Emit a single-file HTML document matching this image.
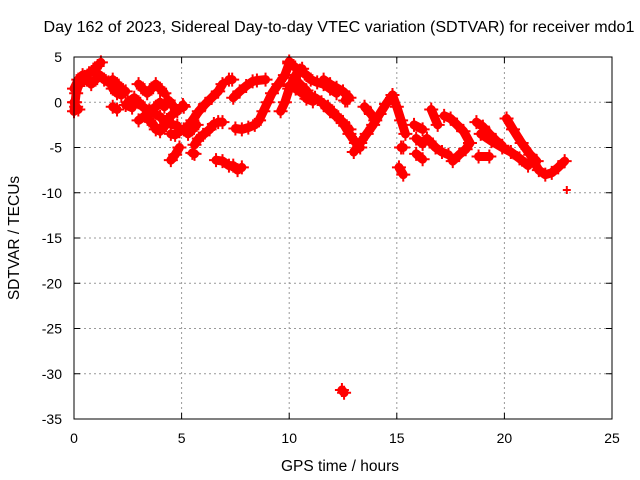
<!DOCTYPE html>
<html><head><meta charset="utf-8"><style>
body{margin:0;background:#fff;}
svg{display:block;font-family:"Liberation Sans",sans-serif;}
</style></head><body>
<svg id="chart" width="640" height="480">
<text x="339" y="32" text-anchor="middle" font-size="16.1">Day 162 of 2023, Sidereal Day-to-day VTEC variation (SDTVAR) for receiver mdo1</text>
<text x="340" y="471" text-anchor="middle" font-size="15.5">GPS time / hours</text>
<text transform="translate(19,238) rotate(-90)" text-anchor="middle" font-size="15.5">SDTVAR / TECUs</text>
<g id="grid"></g><g id="ticks"></g><g id="marks"></g>
<rect x="74" y="57" width="538" height="362" fill="none" stroke="#000" stroke-width="1"/>
</svg>
<script>
const xTicks=[0,5,10,15,20,25];
const yTicks=[5,0,-5,-10,-15,-20,-25,-30,-35];
const tracks=[
[[0,-1],[0.05,0],[0.1,1],[0.2,1.8],[0.35,2.3],[0.5,2.8],[0.7,3.2],[0.9,3.6],[1.1,4],[1.25,4.4]],
[[0,1.5],[0.2,2.5],[0.4,3],[0.6,2.5],[0.8,2],[1.0,2.5],[1.2,3],[1.4,2.5],[1.6,2.2],[1.8,2.5],[2.0,2],[2.2,1.5],[2.4,1.2]],
[[0,0],[0.1,-0.5],[0.2,-0.8]],
[[1.8,1.5],[2.0,1],[2.2,0.8]],
[[1.8,-0.5],[2.0,-0.8]],
[[2.5,0],[2.8,0.5],[3.0,0],[3.2,-0.5],[3.5,-1],[3.8,-0.5],[4.0,0],[4.2,-0.5],[4.4,0.2],[4.6,-0.4],[4.8,-1]],
[[3.0,2],[3.2,1.5],[3.4,1],[3.6,1.5],[3.8,2],[4.0,1.5],[4.2,1]],
[[3.0,-2],[3.3,-1.5],[3.5,-2],[3.7,-2.5],[3.8,-3],[4.0,-3.2],[4.2,-2.7]],
[[2.4,-0.3],[2.7,-0.6]],
[[3.5,-0.9],[4.0,-1.6],[4.3,-2.3],[4.8,-2.6]],
[[4.5,-3.5],[4.7,-3.6],[4.9,-3.2],[5.1,-3],[5.3,-3.5],[5.5,-3],[5.7,-2.5]],
[[4.5,-1.5],[4.6,-1.3]],
[[5.06,-0.3],[5.1,-0.5]],
[[5.2,-3],[5.5,-2],[5.8,-1],[6.1,-0.2],[6.4,0.5],[6.7,1.2],[6.9,2]],
[[7.2,2.5],[7.35,2.5]],
[[5.6,-4.7],[5.8,-4],[6.0,-3.6],[6.3,-3],[6.5,-2.4]],
[[6.7,-2.2],[6.9,-2.2]],
[[4.5,-6.4],[4.7,-5.8],[4.9,-5]],
[[5.5,-5.6],[5.6,-5.7]],
[[6.6,-6.4],[6.9,-6.5],[7.2,-7],[7.4,-7],[7.6,-7.5],[7.8,-7.2]],
[[7.4,0.5],[7.7,1.2],[8.0,1.8],[8.3,2.3],[8.5,2.4],[8.9,2.5]],
[[7.5,-2.9],[7.8,-3],[8.1,-2.8],[8.4,-2.5],[8.6,-2],[8.8,-1],[9.0,0],[9.2,1],[9.5,2],[9.8,3],[10.0,4.3]],
[[9.6,-1],[9.8,0],[10.0,1.5],[10.3,3],[10.6,3.7]],
[[10.0,4.5],[10.2,4],[10.5,3.5],[10.8,3],[11.0,2.5],[11.3,2.2],[11.6,2],[11.9,1.5],[12.2,1]],
[[10.0,1.8],[10.3,1.5],[10.6,1],[10.9,0.8],[11.2,0.5],[11.5,0],[11.8,-0.5],[12.0,-1],[12.2,-1.5],[12.4,-2],[12.6,-2.6],[12.8,-3]],
[[10.2,2.7],[10.5,2],[10.8,1.3],[11.0,0.5]],
[[10.8,0.4],[11.1,0.1]],
[[11.6,2.5],[11.9,2],[12.2,1.6],[12.5,1.2],[12.8,0.5]],
[[12.6,0.2],[12.7,0.2]],
[[11.6,-0.3],[11.9,-1],[12.2,-1.6],[12.5,-2.2]],
[[12.5,-2.3],[12.8,-3.5],[13.1,-4.5],[13.3,-5]],
[[13.0,-5.5],[13.3,-4.5],[13.6,-3.5],[13.9,-2.5],[14.2,-1.3],[14.5,-0.2],[14.8,0.8]],
[[14.8,0.8],[15.0,-0.5],[15.2,-2],[15.4,-3.5]],
[[13.5,-0.5],[13.8,-1.3],[14.0,-2]],
[[15.2,-5],[15.3,-5]],
[[15.1,-7.2],[15.3,-8]],
[[15.8,-2.5],[16.2,-3]],
[[15.9,-4],[16.2,-4.6]],
[[15.9,-5.7],[16.2,-6.3]],
[[16.6,-0.8],[16.9,-2.5]],
[[16.4,-4],[16.8,-5],[17.1,-5.5],[17.4,-5.8]],
[[17.2,-1.5],[17.5,-1.8],[17.8,-2.5],[18.1,-3.2],[18.4,-4.5],[18.2,-5.2],[17.9,-5.8],[17.6,-6.5]],
[[18.7,-2.2],[19.0,-2.7],[19.3,-3.5],[19.6,-4.2],[19.9,-4.8]],
[[18.8,-6],[19.3,-6]],
[[18.9,-3.5],[19.4,-4.3],[19.9,-5],[20.3,-5.5],[20.7,-6.2],[21.1,-7]],
[[20.1,-1.8],[20.4,-3],[20.8,-4.5],[21.2,-5.8],[21.5,-6.5]],
[[21.3,-6.3],[21.6,-7.5],[21.9,-8],[22.2,-7.8],[22.5,-7.2],[22.8,-6.5]],
[[22.9,-9.7]],
[[12.45,-31.8],[12.55,-32.1]]
];
const NS='http://www.w3.org/2000/svg';
const X=t=>74+t*538/25, Y=v=>57+(5-v)*362/40;
const grid=document.getElementById('grid'),tk=document.getElementById('ticks'),mk=document.getElementById('marks');
function mkEl(tag,attrs,parent){const e=document.createElementNS(NS,tag);for(const k in attrs)e.setAttribute(k,attrs[k]);parent.appendChild(e);return e;}
xTicks.forEach(t=>{
  if(t>0&&t<25){const g=mkEl('line',{x1:X(t),x2:X(t),y1:57,y2:419,stroke:'#999','stroke-dasharray':'2,3'},grid);
  
  }
  const l=mkEl('text',{x:X(t),y:443,'text-anchor':'middle','font-size':14},tk);l.textContent=t;
  
  
  mkEl('line',{x1:X(t),x2:X(t),y1:419,y2:413,stroke:'#000'},tk);
  mkEl('line',{x1:X(t),x2:X(t),y1:57,y2:63,stroke:'#000'},tk);
});
yTicks.forEach(v=>{
  if(v<5&&v>-35){const g=mkEl('line',{x1:74,x2:612,y1:Y(v),y2:Y(v),stroke:'#999','stroke-dasharray':'2,3'},grid);
  
  }
  const l=mkEl('text',{x:62,y:Y(v)+5,'text-anchor':'end','font-size':14},tk);l.textContent=v;
  
  
  mkEl('line',{x1:74,x2:80,y1:Y(v),y2:Y(v),stroke:'#000'},tk);
  mkEl('line',{x1:612,x2:606,y1:Y(v),y2:Y(v),stroke:'#000'},tk);
});
tracks.forEach(tr=>{
  if(tr.length>1){
    const p=mkEl('polyline',{points:tr.map(d=>X(d[0])+','+Y(d[1])).join(' '),fill:'none',stroke:'#f00','stroke-width':9,'stroke-linejoin':'round','stroke-linecap':'round'},mk);
    
    
  }
  tr.forEach(d=>{
    const x=X(d[0]),y=Y(d[1]);
    const s=tr.length>1?7:4;
    const m=mkEl('path',{d:`M${x-s},${y}H${x+s}M${x},${y-s}V${y+s}`,stroke:'#f00','stroke-width':2},mk);
    
    
  });
});
</script>
</body></html>
